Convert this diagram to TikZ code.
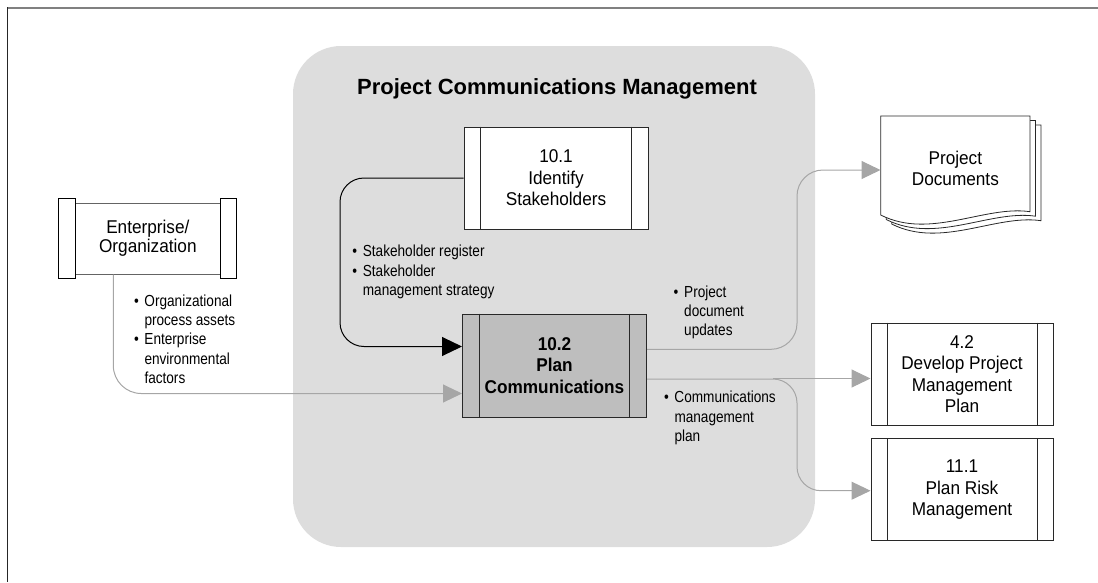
\documentclass[tikz,border=0pt]{standalone}
\usepackage{fontspec}
\setmainfont{Liberation Sans}
\newfontfamily\boxff{Liberation Sans}[FakeStretch=0.93]
\newfontfamily\labff{Liberation Sans}[FakeStretch=0.85]
\usetikzlibrary{arrows.meta}
\definecolor{panel}{RGB}{221,221,221}
\definecolor{procfill}{RGB}{190,190,190}
\definecolor{flowgray}{RGB}{166,166,166}
\definecolor{boxline}{RGB}{40,40,40}
\definecolor{entline}{RGB}{100,100,100}
\definecolor{frametop}{RGB}{128,128,128}
\newcommand\sidebars[2]{%
  \draw[boxline,line width=1pt] ([xshift=#2]#1.north west) -- ([xshift=#2]#1.south west);
  \draw[boxline,line width=1pt] ([xshift=-#2]#1.north east) -- ([xshift=-#2]#1.south east);}
\newcommand\bul{\makebox[10.5pt][l]{\textbullet}}
\newcommand\ind{\hspace*{10.5pt}}
\begin{document}
\begin{tikzpicture}[x=1pt,y=-1pt,
  procbox/.style={draw=boxline, line width=1pt, minimum width=184pt, minimum height=102pt,
    inner sep=0pt, align=center, fill=white, font=\boxff\fontsize{18.5}{21.5}\selectfont},
  entbox/.style={draw=entline, line width=1pt, minimum width=144.3pt, minimum height=70.7pt,
    inner sep=0pt, align=center, fill=white, font=\boxff\fontsize{18.5}{19}\selectfont},
  endcap/.style={draw=black, line width=1pt, fill=white},
  doctext/.style={minimum width=149.3pt, inner sep=0pt, align=center, font=\boxff\fontsize{18.5}{21}\selectfont},
  docline/.style={draw=boxline, line width=0.8pt, fill=white},
  lab/.style={anchor=north west, inner sep=0pt, align=left, font=\labff\fontsize{16}{19.3}\selectfont},
  blk/.style={draw=black, line width=1pt, -{Triangle[length=20pt,width=19pt]}},
  gry/.style={draw=flowgray, line width=1pt, -{Triangle[length=19pt,width=18pt,fill=flowgray]}},
  ttl/.style={font=\bfseries\fontsize{22}{26}\selectfont, inner sep=0pt}
]
\useasboundingbox (0,0) rectangle (1098,582);
% frame
\draw[frametop, line width=2pt] (7,7.5) -- (1098,7.5);
\draw[black!85, line width=1.5pt] (7.5,7) -- (7.5,582);
% panel
\fill[panel, rounded corners=48pt] (293,46) rectangle (815,547);
\node[ttl] (title) at (557,89) {Project Communications Management};
% process boxes
\node[procbox] (s101) at (556,178) {10.1\\Identify\\Stakeholders};
\sidebars{s101}{17pt}
\node[procbox, fill=procfill, minimum height=103pt, font=\boxff\bfseries\fontsize{18.5}{21.6}\selectfont] (s102) at (554.5,365.5) {10.2\\Plan\\Communications};
\sidebars{s102}{17.5pt}
\node[procbox, minimum width=182pt] (s42) at (962,374) {4.2\\Develop Project\\Management\\Plan};
\sidebars{s42}{16.5pt}
\node[procbox, minimum width=182pt] (s111) at (962,489.7) {11.1\\Plan Risk\\Management};
\sidebars{s111}{16.5pt}
% enterprise
\node[entbox] (ent) at (147.85,238.65) {Enterprise/\\Organization};
\draw[endcap] ([xshift=-16.7pt,yshift=4pt]ent.north west) rectangle ([yshift=-4pt]ent.south west);
\draw[endcap] ([yshift=4pt]ent.north east) rectangle ([xshift=16pt,yshift=-4pt]ent.south east);
% documents
\foreach \o/\p in {11/9, 5.5/4.5, 0/0} {
  \draw[docline] (880.7+\o,116+\p) -- (1030+\o,116+\p) -- (1030+\o,211.7+\p)
    .. controls (985+\o,205+\p) and (930+\o,240+\p) .. (880.7+\o,215+\p) -- cycle;
}
\node[doctext] (doc) at (955.35,168.5) {Project\\Documents};
% connectors
\draw[blk, rounded corners=24pt] (s101.west) -- (340,178) -- (340,346.5) -- ([yshift=19pt]s102.west);
\draw[gry, rounded corners=28pt] ([xshift=-34.5pt]ent.south) -- (113.3,393.5) -- ([yshift=-28pt]s102.west);
\draw[gry, rounded corners=26pt] ([yshift=16.2pt]s102.east) -- (797,349.3) -- (797,170) -- ([yshift=-1.5pt]doc.west);
\draw[gry, rounded corners=24pt] ([yshift=-13.5pt]s102.east) -- (797,379) -- (797,490.7) -- ([yshift=-1pt]s111.west);
\coordinate (br) at (773,378.5);
\draw[gry] (br) -- (s42.west |- br);
% labels
\node[lab] (l1) at (352.2,245) {\bul Stakeholder register\\\bul Stakeholder\\\ind management strategy};
\node[lab] (l2) at (133.8,294.5) {\bul Organizational\\\ind process assets\\\bul Enterprise\\\ind environmental\\\ind factors};
\node[lab] (l3) at (673.5,285.3) {\bul Project\\\ind document\\\ind updates};
\node[lab] (l4) at (663.8,391) {\bul Communications\\\ind management\\\ind plan};
\end{tikzpicture}
\end{document}
